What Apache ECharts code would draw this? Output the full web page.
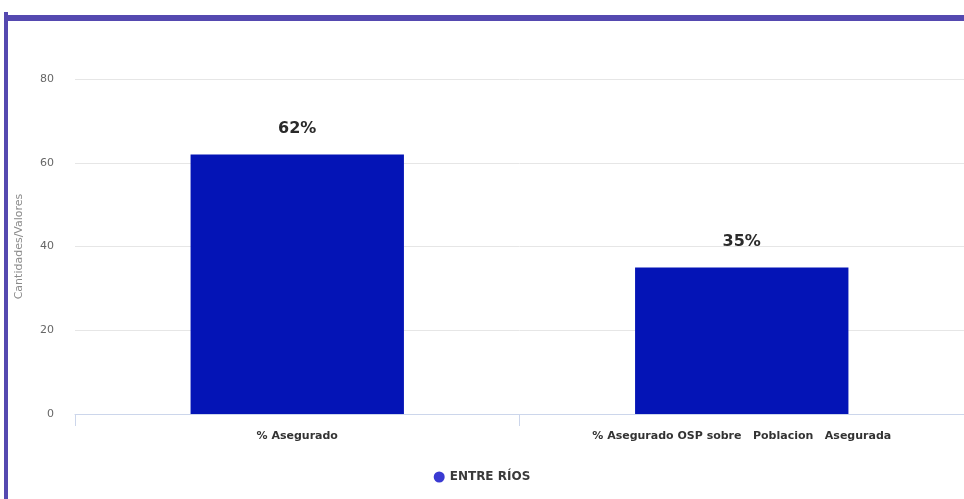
<!DOCTYPE html>
<html>
<head>
<meta charset="utf-8">
<script src="https://cdn.jsdelivr.net/npm/echarts@6/dist/echarts.min.js"></script>
<style>
  html, body { margin: 0; padding: 0; background: #ffffff; }
  #chart { width: 964px; height: 499px; }
</style>
</head>
<body>
<div id="chart"></div>
<script>
// Indicadores de aseguramiento para la provincia
const categories = ['% Asegurado', '% Asegurado OSP sobre   Poblacion   Asegurada'];
const seriesName = 'ENTRE RÍOS';
const values = [62, 35];
const yTicks = { min: 0, max: 80, interval: 20 };

const chart = echarts.init(document.getElementById('chart'), null, { renderer: 'canvas' });

chart.setOption({
  animation: false,
  backgroundColor: '#ffffff',
  textStyle: { fontFamily: 'DejaVu Sans, Verdana, sans-serif' },
  grid: { left: 75, width: 894, top: 79, bottom: 85, containLabel: false },
  legend: {
    data: [seriesName],
    bottom: 11,
    left: 'center',
    icon: 'circle',
    itemWidth: 11,
    itemHeight: 11,
    itemGap: 8,
    itemStyle: { color: '#3a3ad2' },
    textStyle: { color: '#3a3a3a', fontSize: 12, fontWeight: 'bold' }
  },
  xAxis: {
    type: 'category',
    data: categories,
    axisLine: { lineStyle: { color: '#ccd6eb', width: 1 } },
    axisTick: { show: true, length: 12, lineStyle: { color: '#ccd6eb' } },
    axisLabel: { color: '#333333', fontSize: 11, fontWeight: 'bold', margin: 17 }
  },
  yAxis: {
    type: 'value',
    min: yTicks.min,
    max: yTicks.max,
    interval: yTicks.interval,
    name: 'Cantidades/Valores',
    nameLocation: 'middle',
    nameGap: 50,
    nameTextStyle: { color: '#8a8a8a', fontSize: 11 },
    axisLine: { show: false },
    axisTick: { show: false },
    axisLabel: { color: '#666666', fontSize: 11, margin: 21 },
    splitLine: { lineStyle: { color: '#e6e6e6', width: 1 } }
  },
  series: [{
    name: seriesName,
    type: 'bar',
    data: values,
    barWidth: '48%',
    itemStyle: { color: '#0414b6' },
    label: {
      show: true,
      position: 'top',
      distance: 18,
      formatter: p => p.value + '%',
      color: '#2a2a2a',
      fontSize: 16,
      fontWeight: 'bold'
    }
  }],
  graphic: [
    { type: 'rect', shape: { x: 4, y: 15, width: 960, height: 6 }, style: { fill: '#5549b0' }, z: 100 },
    { type: 'rect', shape: { x: 4, y: 12, width: 4, height: 487 }, style: { fill: '#5549b0' }, z: 100 }
  ]
});
</script>
</body>
</html>
